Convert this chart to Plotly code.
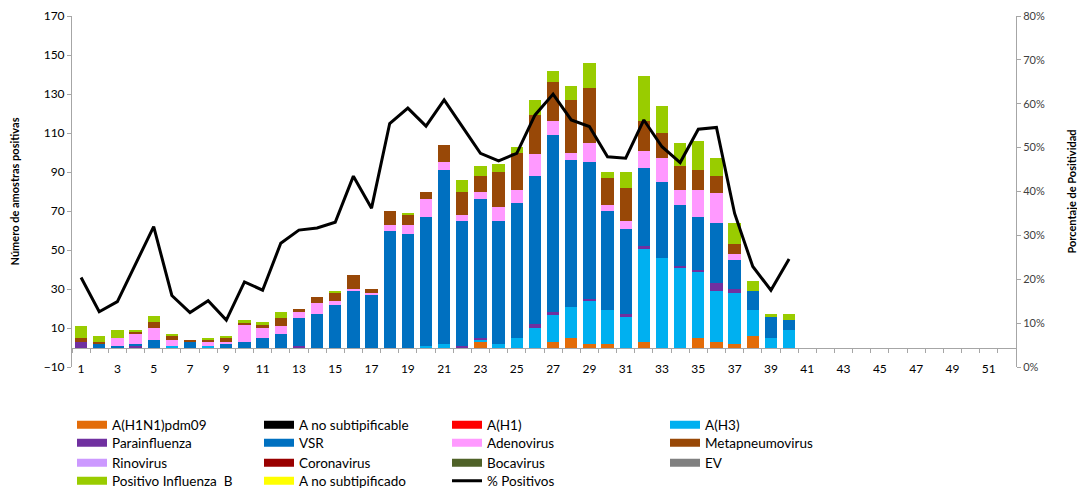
import plotly.graph_objects as go

weeks = list(range(1, 41))
week_ticks = list(range(1, 52, 2))

h1n1 = [0, 0, 0, 0, 0, 0, 0, 0, 0, 0, 0, 0, 0, 0, 0, 0, 0, 0, 0, 0,
        0, 0, 3, 0, 0, 0, 3, 5, 2, 2, 0, 3, 0, 0, 5, 3, 2, 6, 0, 0]
h3 = [0, 0, 0, 0, 0, 1, 0, 1, 0, 0, 0, 0, 0, 0, 0, 0, 0, 0, 0, 1,
      2, 0, 1, 2, 5, 10, 14, 16, 22, 17, 16, 48, 46, 41, 34, 26, 26, 13, 5, 9]
para = [3, 0, 0, 1, 0, 0, 0, 0, 0, 0, 0, 0, 1, 0, 0, 0, 0, 0, 0, 0,
        0, 1, 1, 0, 0, 2, 1, 0, 1, 0, 1, 1, 0, 1, 1, 4, 2, 0, 0, 0]
vsr = [0, 2, 1, 1, 4, 0, 3, 0, 2, 3, 5, 7, 14, 17, 22, 29, 27, 60, 58, 66,
       89, 64, 71, 63, 69, 76, 91, 75, 70, 51, 44, 40, 39, 31, 27, 31, 15, 10, 11, 5]
adeno = [0, 0, 4, 5, 6, 3, 0, 2, 1, 9, 5, 4, 3, 6, 2, 1, 1, 3, 5, 9,
         4, 3, 4, 7, 7, 11, 7, 4, 10, 3, 4, 9, 12, 8, 14, 15, 3, 0, 0, 0]
metap = [2, 1, 0, 1, 3, 2, 1, 1, 2, 1, 2, 4, 2, 3, 4, 7, 2, 7, 5, 4,
         9, 12, 8, 18, 19, 20, 20, 27, 28, 14, 17, 15, 13, 12, 10, 9, 5, 0, 0, 0]
flub = [6, 3, 4, 1, 3, 1, 0, 1, 1, 1, 1, 3, 0, 0, 1, 0, 0, 0, 1, 0,
        0, 6, 5, 4, 3, 8, 6, 7, 13, 3, 8, 23, 14, 12, 15, 9, 11, 5, 1, 3]
pct_pos = [20.4, 12.6, 14.9, 23.6, 32.0, 16.3, 12.4, 15.1, 10.7, 19.4,
           17.5, 28.2, 31.2, 31.7, 33.0, 43.5, 36.2, 55.5, 59.0, 54.9,
           60.9, 54.8, 48.7, 47.0, 48.7, 57.4, 62.2, 56.3, 54.8, 47.9,
           47.6, 56.3, 50.2, 46.6, 54.2, 54.6, 35.0, 22.9, 17.5, 24.6]

left_ticks = list(range(-10, 171, 20))
right_ticks = [0, 0.1, 0.2, 0.3, 0.4, 0.5, 0.6, 0.7, 0.8]

colors = {
    "A(H1N1)pdm09": "#E36C09",
    "A no subtipificable": "#000000",
    "A(H1)": "#FF0000",
    "A(H3)": "#00B0F0",
    "Parainfluenza": "#7030A0",
    "VSR": "#0070C0",
    "Adenovirus": "#FF99FF",
    "Metapneumovirus": "#984807",
    "Rinovirus": "#CC99FF",
    "Coronavirus": "#990000",
    "Bocavirus": "#4F6228",
    "EV": "#808080",
    "Positivo Influenza  B": "#99CC00",
    "A no subtipificado": "#FFFF00",
}

stack = [
    ("A(H1N1)pdm09", h1n1),
    ("A(H3)", h3),
    ("Parainfluenza", para),
    ("VSR", vsr),
    ("Adenovirus", adeno),
    ("Metapneumovirus", metap),
    ("Positivo Influenza  B", flub),
]

# legend grid (rows x columns)
legend_rows = [
    ["A(H1N1)pdm09", "A no subtipificable", "A(H1)", "A(H3)"],
    ["Parainfluenza", "VSR", "Adenovirus", "Metapneumovirus"],
    ["Rinovirus", "Coronavirus", "Bocavirus", "EV"],
    ["Positivo Influenza  B", "A no subtipificado", "% Positivos"],
]

FONT = "Lato"
GRAY = "#A6A6A6"
W, H = 1077, 483          # page body adds an 8px offset
ML, MR, MT, MB = 64, 69, 8, 124
PW = W - ML - MR
col_x_px = [64, 251, 439, 657]
row_y_px = [417, 435, 455, 473]

fig = go.Figure()
for name, vals in stack:
    fig.add_trace(go.Bar(x=weeks, y=vals, name=name, marker_color=colors[name],
                         marker_line_width=0, showlegend=False))

fig.add_trace(go.Scatter(x=weeks, y=[v / 100 for v in pct_pos], yaxis="y2",
                         mode="lines", name="% Positivos",
                         line=dict(color="black", width=3), showlegend=False))

legend_layouts = {}
k = 0
for r, row in enumerate(legend_rows):
    for c, name in enumerate(row):
        k += 1
        lid = "legend" if k == 1 else f"legend{k}"
        if name == "% Positivos":
            ln = dict(color="black", width=3)
        else:
            ln = dict(color=colors[name], width=8)
        fig.add_trace(go.Scatter(x=[None], y=[None], mode="lines", name=name,
                                 line=ln, legend=lid, hoverinfo="skip"))
        legend_layouts[lid] = dict(
            xref="paper", yref="container", xanchor="left", yanchor="middle",
            x=(col_x_px[c] - ML) / PW, y=1 - row_y_px[r] / H,
            bgcolor="rgba(0,0,0,0)", font=dict(family=FONT, size=13.5, color="#000"),
            itemwidth=30)

fig.update_layout(
    width=W, height=H,
    margin=dict(l=ML, r=MR, t=MT, b=MB),
    paper_bgcolor="white", plot_bgcolor="white",
    barmode="stack", bargap=0.32,
    font=dict(family=FONT, size=12, color="#000"),
    xaxis=dict(range=[0.5, 52.5], tickmode="array", tickvals=week_ticks,
               anchor="free", position=10 / 180, automargin=False,
               showline=True, linecolor=GRAY, linewidth=1,
               ticks="outside", ticklen=4, tickcolor="rgba(0,0,0,0)",
               ticklabelstandoff=6,
               minor=dict(tickmode="linear", tick0=0.5, dtick=1, ticks="outside",
                          ticklen=4, tickcolor=GRAY, showgrid=False),
               showgrid=False, zeroline=False,
               tickfont=dict(family=FONT, size=12, color="#000")),
    yaxis=dict(range=[-10, 170], tickmode="array", tickvals=left_ticks,
               automargin=False,
               showline=True, linecolor=GRAY, linewidth=1,
               ticks="outside", ticklen=4, tickcolor=GRAY,
               showgrid=False, zeroline=False,
               tickfont=dict(family=FONT, size=12, color="#000")),
    yaxis2=dict(range=[0, 0.8], overlaying="y", side="right", tickmode="array",
                tickvals=right_ticks, tickformat=".0%", automargin=False,
                showline=True, linecolor=GRAY, linewidth=1,
                ticks="outside", ticklen=4, tickcolor=GRAY,
                showgrid=False, zeroline=False,
                tickfont=dict(family=FONT, size=11, color="#404040"),
                title=dict(text="<b>Porcentaje de Positividad</b>",
                           font=dict(family=FONT, size=11, color="#000"), standoff=24)),
    **legend_layouts,
)
fig.update_yaxes(selector=dict(overlaying=None),
                 title=dict(text="<b>Número de amostras positivas</b>",
                            font=dict(family=FONT, size=11, color="#000"), standoff=24))
fig.layout.yaxis2.title.text = "<b>Porcentaje de Positividad</b>"

fig.write_html("out.html")
